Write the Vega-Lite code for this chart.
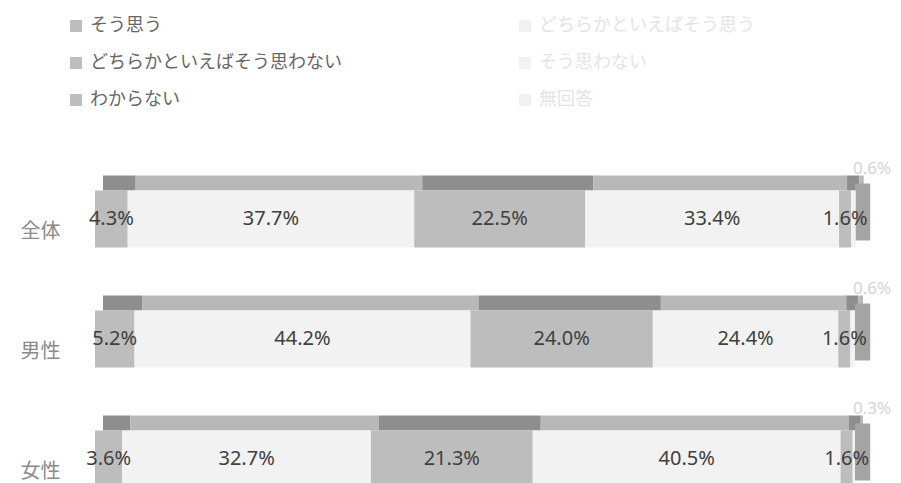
{
  "$schema": "https://vega.github.io/schema/vega-lite/v6.json",
  "width": 760,
  "height": 324,
  "autosize": {"type": "none"},
  "padding": {"left": 95, "top": 159, "right": 46, "bottom": 0},
  "background": "white",
  "config": {"view": {"stroke": null}, "font": "Noto Sans CJK JP"},
  "data": {
    "values": [
      {"group": "全体", "cat": "そう思う", "ord": 1, "value": 4.3},
      {"group": "全体", "cat": "どちらかといえばそう思う", "ord": 2, "value": 37.7},
      {"group": "全体", "cat": "どちらかといえばそう思わない", "ord": 3, "value": 22.5},
      {"group": "全体", "cat": "そう思わない", "ord": 4, "value": 33.4},
      {"group": "全体", "cat": "わからない", "ord": 5, "value": 1.6},
      {"group": "全体", "cat": "無回答", "ord": 6, "value": 0.6},
      {"group": "男性", "cat": "そう思う", "ord": 1, "value": 5.2},
      {"group": "男性", "cat": "どちらかといえばそう思う", "ord": 2, "value": 44.2},
      {"group": "男性", "cat": "どちらかといえばそう思わない", "ord": 3, "value": 24.0},
      {"group": "男性", "cat": "そう思わない", "ord": 4, "value": 24.4},
      {"group": "男性", "cat": "わからない", "ord": 5, "value": 1.6},
      {"group": "男性", "cat": "無回答", "ord": 6, "value": 0.6},
      {"group": "女性", "cat": "そう思う", "ord": 1, "value": 3.6},
      {"group": "女性", "cat": "どちらかといえばそう思う", "ord": 2, "value": 32.7},
      {"group": "女性", "cat": "どちらかといえばそう思わない", "ord": 3, "value": 21.3},
      {"group": "女性", "cat": "そう思わない", "ord": 4, "value": 40.5},
      {"group": "女性", "cat": "わからない", "ord": 5, "value": 1.6},
      {"group": "女性", "cat": "無回答", "ord": 6, "value": 0.3}
    ]
  },
  "encoding": {
    "y": {
      "field": "group",
      "type": "nominal",
      "sort": ["全体", "男性", "女性"],
      "scale": {"range": [0, 360], "paddingInner": 0.525, "paddingOuter": 0.2625},
      "axis": {
        "title": null,
        "domain": false,
        "ticks": false,
        "labelFontSize": 20,
        "labelColor": "#8a8a8a",
        "labelPadding": 35,
        "labelOffset": 13,
        "labelFont": "Noto Sans CJK JP"
      }
    }
  },
  "layer": [
    {
      "mark": {"type": "bar", "height": 15, "yOffset": -36, "xOffset": 8},
      "encoding": {
        "x": {"field": "value", "type": "quantitative", "stack": "zero", "scale": {"domain": [0, 100]}, "axis": null},
        "detail": {"field": "cat"},
        "order": {"field": "ord"},
        "color": {"condition": {"test": "datum.ord % 2 === 1", "value": "#8e8e8e"}, "value": "#b8b8b8"}
      }
    },
    {
      "transform": [{"filter": "datum.cat === '無回答'"}],
      "mark": {"type": "bar", "height": 57, "yOffset": -7, "color": "#a4a4a4"},
      "encoding": {
        "x": {"datum": 100, "type": "quantitative"},
        "x2": {"datum": 102}
      }
    },
    {
      "mark": {"type": "bar", "height": 57},
      "encoding": {
        "x": {"field": "value", "type": "quantitative", "stack": "zero"},
        "order": {"field": "ord"},
        "color": {
          "field": "cat",
          "type": "nominal",
          "sort": ["そう思う", "どちらかといえばそう思う", "どちらかといえばそう思わない", "そう思わない", "わからない", "無回答"],
          "scale": {
            "domain": ["そう思う", "どちらかといえばそう思う", "どちらかといえばそう思わない", "そう思わない", "わからない", "無回答"],
            "range": ["#bdbdbd", "#f2f2f2", "#bdbdbd", "#f2f2f2", "#bdbdbd", "#f2f2f2"]
          },
          "legend": {
            "orient": "none",
            "direction": "horizontal",
            "legendX": -28,
            "legendY": -142,
            "columns": 2,
            "columnPadding": 174,
            "rowPadding": 19,
            "title": null,
            "symbolType": "square",
            "symbolSize": 144,
            "symbolStrokeWidth": 0,
            "labelFontSize": 18,
            "labelFont": "Noto Sans CJK JP",
            "labelOffset": 5,
            "labelLimit": 400,
            "labelColor": "#666666",
            "encode": {
              "labels": {
                "update": {
                  "fill": {"signal": "indexof(['どちらかといえばそう思う','そう思わない','無回答'], datum.value) >= 0 ? '#e4e4e4' : '#666666'"}
                }
              }
            }
          }
        }
      }
    },
    {
      "mark": {
        "type": "text",
        "font": "Noto Sans",
        "fontSize": 20,
        "color": "#404040",
        "text": {"expr": "datum.cat === '無回答' ? '' : format(datum.value, '.1f') + '%'"}
      },
      "encoding": {
        "x": {"field": "value", "type": "quantitative", "stack": "zero", "bandPosition": 0.5},
        "detail": {"field": "cat"},
        "order": {"field": "ord"}
      }
    },
    {
      "transform": [{"filter": "datum.cat === '無回答'"}],
      "mark": {
        "type": "text",
        "font": "Noto Sans",
        "fontSize": 17,
        "color": "#d4d4d4",
        "dx": 17,
        "dy": -50,
        "text": {"expr": "format(datum.value, '.1f') + '%'"}
      },
      "encoding": {
        "x": {"datum": 100, "type": "quantitative"}
      }
    }
  ]
}
